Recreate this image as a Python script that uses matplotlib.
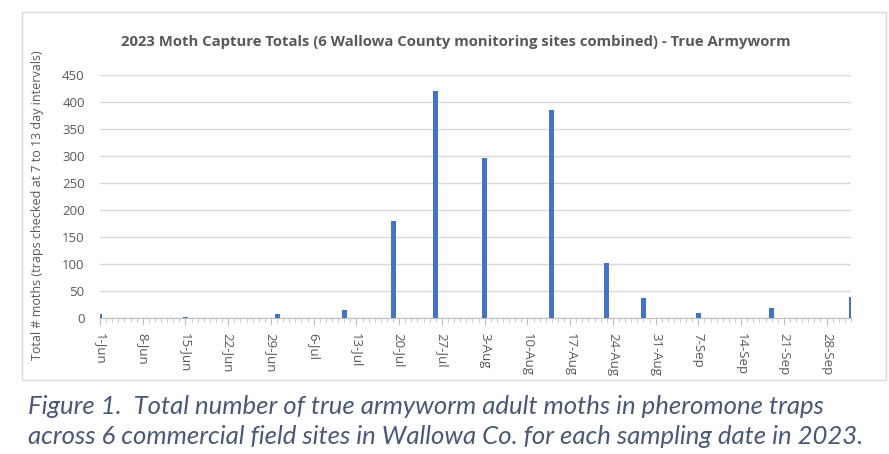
import matplotlib
matplotlib.use("Agg")
import matplotlib.pyplot as plt
import matplotlib.dates as mdates
from matplotlib.patches import Rectangle
import datetime as dt

# ---- data ----
sample_dates = ["2023-06-01", "2023-06-15", "2023-06-30", "2023-07-11", "2023-07-19",
                "2023-07-26", "2023-08-03", "2023-08-14", "2023-08-23", "2023-08-29",
                "2023-09-07", "2023-09-19", "2023-10-02"]
moth_totals = [8, 1, 7, 14, 180, 421, 296, 385, 101, 37, 10, 18, 38]
tick_dates = ["2023-06-01", "2023-06-08", "2023-06-15", "2023-06-22", "2023-06-29",
              "2023-07-06", "2023-07-13", "2023-07-20", "2023-07-27", "2023-08-03",
              "2023-08-10", "2023-08-17", "2023-08-24", "2023-08-31", "2023-09-07",
              "2023-09-14", "2023-09-21", "2023-09-28"]
tick_labels = ["1-Jun", "8-Jun", "15-Jun", "22-Jun", "29-Jun", "6-Jul", "13-Jul",
               "20-Jul", "27-Jul", "3-Aug", "10-Aug", "17-Aug", "24-Aug", "31-Aug",
               "7-Sep", "14-Sep", "21-Sep", "28-Sep"]
y_ticks = [0, 50, 100, 150, 200, 250, 300, 350, 400, 450]

title = "2023 Moth Capture Totals (6 Wallowa County monitoring sites combined) - True Armyworm"
ylabel = "Total # moths (traps checked at 7 to 13 day intervals)"
caption1 = "Figure 1.  Total number of true armyworm adult moths in pheromone traps"
caption2 = "across 6 commercial field sites in Wallowa Co. for each sampling date in 2023."

to_date = lambda s: dt.datetime.strptime(s, "%Y-%m-%d")
x = [to_date(s) for s in sample_dates]
xt = [to_date(s) for s in tick_dates]

FONT = "Open Sans"
GRAY = "#595959"
GRID = "#D9D9D9"
BLUE = "#4472C4"

fig = plt.figure(figsize=(8.89, 4.54), dpi=100)
fig.patch.set_facecolor("white")

# chart frame
fig.add_artist(Rectangle((22 / 889, 1 - 380 / 454), (886 - 22) / 889, (380 - 12) / 454,
                         transform=fig.transFigure, fill=False, edgecolor=GRID, lw=1.0))

ax = fig.add_axes([100 / 889, 1 - 318 / 454, (851 - 100) / 889, (318 - 75) / 454])
ax.bar(x, moth_totals, width=0.8, color=BLUE, zorder=3)
ax.set_xlim(to_date("2023-06-01"), to_date("2023-10-02"))
ax.set_ylim(0, 450)

ax.set_yticks(y_ticks)
ax.set_yticklabels([str(v) for v in y_ticks], fontfamily=FONT, fontsize=9.5, color=GRAY)
ax.tick_params(axis="y", length=0, pad=11)
ax.grid(axis="y", color=GRID, lw=1.0, zorder=0)

ax.set_xticks(xt)
ax.set_xticklabels(tick_labels, rotation=-90, fontfamily=FONT, fontsize=9.5, color=GRAY,
                   va="top", ha="center")
ax.xaxis.set_minor_locator(mdates.DayLocator())
ax.tick_params(axis="x", which="major", length=5, color="#BFBFBF", pad=6)
ax.tick_params(axis="x", which="minor", length=3, color="#BFBFBF")

for s in ["top", "right", "left"]:
    ax.spines[s].set_visible(False)
ax.spines["bottom"].set_color("#BFBFBF")

fig.text(456 / 889, 1 - 42 / 454, title, ha="center", va="center", fontfamily=FONT,
         fontweight="bold", fontsize=10.75, color=GRAY)
fig.text(38 / 889, 1 - 205 / 454, ylabel, ha="center", va="center", rotation=90,
         fontfamily=FONT, fontsize=9, color=GRAY)

CAP = "#4A5878"
fig.text(28 / 889, 1 - 407 / 454, caption1, ha="left", va="center", fontfamily="Lato",
         style="italic", fontsize=18.5, color=CAP)
fig.text(28 / 889, 1 - 437 / 454, caption2, ha="left", va="center", fontfamily="Lato",
         style="italic", fontsize=18.5, color=CAP)

fig.savefig("out.png", dpi=100)
